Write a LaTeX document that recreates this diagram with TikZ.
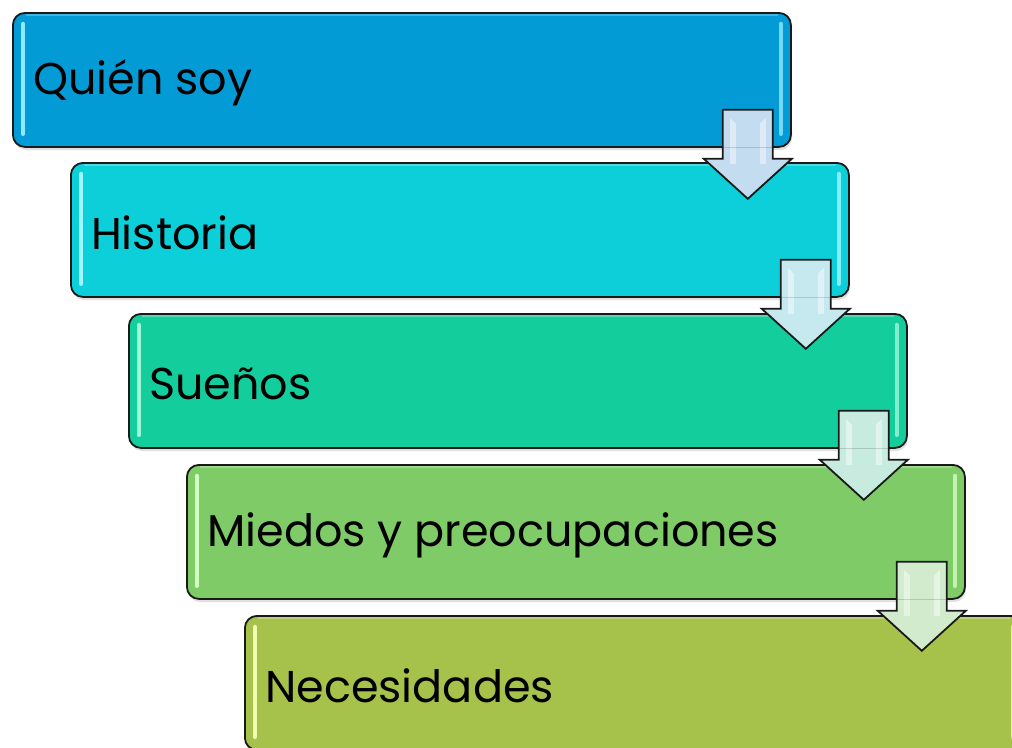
\documentclass[tikz,border=0pt]{standalone}
\usepackage{fontspec}
\setmainfont{Poppins}
\usetikzlibrary{calc}
\definecolor{cA}{HTML}{039BD5}\definecolor{hA}{HTML}{8FE9FF}
\definecolor{cB}{HTML}{0CCFD9}\definecolor{hB}{HTML}{9FF7FF}
\definecolor{cC}{HTML}{14CD9C}\definecolor{hC}{HTML}{9FF7DA}
\definecolor{cD}{HTML}{7ECB67}\definecolor{hD}{HTML}{D2FFC2}
\definecolor{cE}{HTML}{A7C24B}\definecolor{hE}{HTML}{F0FFB0}
\definecolor{aA}{HTML}{C3DCF0}\definecolor{aB}{HTML}{C6E8EF}
\definecolor{aC}{HTML}{C8EBE0}\definecolor{aD}{HTML}{D3EBCD}
\tikzset{
  stepbox/.style={draw=black!90, line width=1.8pt, rounded corners=12pt,
    minimum width=778pt, minimum height=134pt, anchor=north west, inner sep=0pt},
  boxlabel/.style={anchor=west, font=\fontsize{44.5}{50}\selectfont, text=black, inner sep=0pt},
  blockarrow/.style={draw=black!90, line width=1.8pt, line join=miter},
  gloss/.style={line width=4.5pt, line cap=round}
}
\newcommand{\mybox}[5]{% name, x, y, color, highlight
  \fill[black, opacity=0.12, rounded corners=12pt] (#2+2,#3+4) rectangle ++(778,134);
  \node[stepbox, fill=#4] (#1) at (#2,#3) {};
  \draw[gloss, #5] ($(#1.north west)+(11,12)$) -- ($(#1.south west)+(11,-14)$);
  \draw[gloss, #5, opacity=0.8] ($(#1.north east)+(-11,12)$) -- ($(#1.south east)+(-11,-14)$);
  \draw[line width=2pt, white, opacity=0.25] ($(#1.north west)+(14,3)$) -- ($(#1.north east)+(-14,3)$);
}
\newcommand{\myarrow}[2]{% box name, color
  \draw[blockarrow, fill=#2] ($(#1.south east)+(-69,-38)$) -- ($(#1.south east)+(-19,-38)$)
    -- ($(#1.south east)+(-19,11)$) -- ($(#1.south east)+(0,11)$)
    -- ($(#1.south east)+(-44,51)$) -- ($(#1.south east)+(-88,11)$)
    -- ($(#1.south east)+(-69,11)$) -- cycle;
  \fill[white, opacity=0.45] ($(#1.south east)+(-62,-30)$) -- ($(#1.south east)+(-56,-24)$)
    -- ($(#1.south east)+(-56,16)$) -- ($(#1.south east)+(-62,16)$) -- cycle;
  \fill[white, opacity=0.45] ($(#1.south east)+(-26,-30)$) -- ($(#1.south east)+(-32,-24)$)
    -- ($(#1.south east)+(-32,16)$) -- ($(#1.south east)+(-26,16)$) -- cycle;
  \draw[black, opacity=0.15, line width=0.8pt] ($(#1.south east)+(-69,0)$) -- ($(#1.south east)+(-19,0)$);
}
\begin{document}
\begin{tikzpicture}[x=1pt,y=-1pt]
\useasboundingbox (0,0) rectangle (1012,747);
\clip (0,0) rectangle (1012,747);
\fill[white] (0,0) rectangle (1012,747);
\mybox{b1}{12}{12}{cA}{hA}
\mybox{b2}{70}{162}{cB}{hB}
\mybox{b3}{128}{313}{cC}{hC}
\mybox{b4}{186}{464}{cD}{hD}
\mybox{b5}{244}{615}{cE}{hE}
\node[boxlabel] (t1) at ($(b1.west)+(21,3)$) {Quién soy};
\node[boxlabel] (t2) at ($(b2.west)+(21,3)$) {Historia};
\node[boxlabel] (t3) at ($(b3.west)+(21,3)$) {Sueños};
\node[boxlabel] (t4) at ($(b4.west)+(21,3)$) {Miedos y preocupaciones};
\node[boxlabel] (t5) at ($(b5.west)+(21,3)$) {Necesidades};
\myarrow{b1}{aA}
\myarrow{b2}{aB}
\myarrow{b3}{aC}
\myarrow{b4}{aD}
\end{tikzpicture}
\end{document}
